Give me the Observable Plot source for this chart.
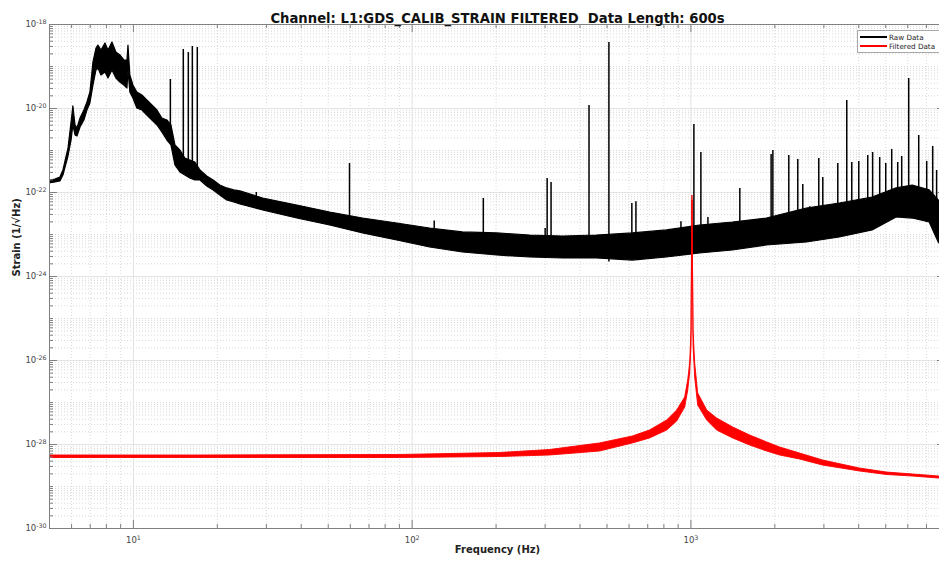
<!DOCTYPE html>
<html><head><meta charset="utf-8">
<script src="https://cdn.jsdelivr.net/npm/d3@7"></script>
<script src="https://cdn.jsdelivr.net/npm/@observablehq/plot@0.6"></script>
<style>
html,body{margin:0;padding:0;background:#fff;overflow:hidden;width:939px;height:561px;}
#wrap{position:relative;width:939px;height:561px;overflow:hidden;}
#wrap svg{max-width:none !important;}
#legend{position:absolute;left:857px;top:30px;width:95px;height:21px;border:1px solid #a8a8a8;background:#fff;font-family:"DejaVu Sans";font-size:7.2px;color:#222;}
.row{position:absolute;left:2px;height:9px;display:flex;align-items:center;white-space:nowrap;}
.sw{width:27px;height:2px;margin-right:2px;}
</style></head>
<body><div id="wrap"></div>
<script>
// ---- Raw data envelope (noise band) ----
const rawFreq = [5.0,5.25,5.47,5.61,5.85,6.0,6.09,6.2,6.3,6.46,6.67,6.84,7.01,7.19,7.37,7.49,7.68,7.94,8.14,8.41,8.69,8.98,9.28,9.52,9.6,9.75,10,10.33,10.77,11.22,11.7,12.2,12.7,13.24,13.69,14.15,14.74,15.36,16.0,16.68,17.4,18.4,19.4,20.5,21.7,23.0,24.2,29.2,38.7,50.8,66.7,88.4,116,152,202,265,348,460,619,820,1077,1414,1873,2605,3420,4487,5470,6247,7190,7745,8192];
const rawHi = [1.93e-22,2.04e-22,2.28e-22,3.34e-22,1.12e-21,4.64e-21,1.12e-20,3.94e-21,3.34e-21,5.78e-21,8.96e-21,1.39e-20,2.40e-20,1.25e-19,2.68e-19,3.16e-19,2.40e-19,3.53e-19,2.40e-19,3.73e-19,2.15e-19,1.83e-19,1.39e-19,1.39e-19,3.16e-19,6.11e-20,3.53e-20,2.40e-20,2.04e-20,1.55e-20,1.18e-20,8.96e-21,5.78e-21,5.18e-21,3.94e-21,1.32e-21,1.0e-21,6.45e-22,5.78e-22,5.18e-22,3.34e-22,2.40e-22,1.93e-22,1.47e-22,1.25e-22,1.12e-22,1.06e-22,7.2e-23,4.9e-23,3.34e-23,2.40e-23,1.83e-23,1.39e-23,1.12e-23,1.06e-23,9.46e-24,8.96e-24,9.46e-24,1.06e-23,1.25e-23,1.64e-23,1.93e-23,2.40e-23,4.16e-23,5.47e-23,7.6e-23,1.25e-22,1.47e-22,1.12e-22,6.45e-23,4.9e-23];
const rawLo = [1.64e-22,1.73e-22,1.83e-22,2.54e-22,7.2e-22,1.73e-21,3.94e-21,2.28e-21,2.15e-21,3.53e-21,5.18e-21,8.96e-21,1.32e-20,3.53e-20,8.03e-20,8.96e-20,6.11e-20,7.2e-20,5.18e-20,8.03e-20,5.18e-20,4.16e-20,3.53e-20,2.99e-20,8.03e-20,2.40e-20,1.73e-20,1.0e-20,8.96e-21,6.81e-21,5.18e-21,3.94e-21,2.68e-21,1.73e-21,1.32e-21,4.4e-22,2.99e-22,2.54e-22,2.15e-22,1.93e-22,1.93e-22,1.39e-22,1.12e-22,8.48e-23,6.45e-23,5.78e-23,5.18e-23,3.73e-23,2.40e-23,1.64e-23,1.06e-23,7.2e-24,4.9e-24,3.73e-24,3.16e-24,2.83e-24,2.68e-24,2.68e-24,2.40e-24,2.83e-24,3.53e-24,4.16e-24,5.47e-24,6.45e-24,8.48e-24,1.25e-23,2.54e-23,2.40e-23,1.93e-23,6.45e-24,4.16e-24];

// ---- Raw data spectral lines ----
const spikeFreq = [13.57,15.1,15.74,16.27,16.95,27.6,40.7,44.2,59.6,120,180,300,305,315,431,508,614,635,921,1025,1086,1151,1498,1940,1968,2245,2418,2520,2670,2876,2973,3365,3624,3777,4002,4309,4487,4757,5000,5253,5520,5705,6045,6566,7014,7370,7612];
const spikePeak = [4.9e-20,2.54e-19,2.15e-19,2.99e-19,2.83e-19,1.0e-22,4.6e-23,3.73e-23,4.9e-22,2.1e-23,7.2e-23,1.39e-23,2.15e-22,1.73e-22,1.18e-20,3.73e-19,5.47e-23,6.0e-23,2.0e-23,4.16e-21,8.96e-22,2.54e-23,1.25e-22,8.0e-22,1.0e-21,7.6e-22,6.1e-22,1.55e-22,4.6e-23,6.45e-22,2.28e-22,4.9e-22,1.55e-20,5.18e-22,5.5e-22,7.6e-22,8.96e-22,6.8e-22,4.9e-22,1.06e-21,5.18e-22,7.2e-22,5.18e-20,2.28e-21,5.5e-22,1.25e-21,3.34e-22];
const spikeBase = [3.0e-21,3.34e-22,2.99e-22,2.99e-22,2.54e-22,6e-23,3.3e-23,3e-23,1.9e-23,1.1e-23,6.5e-24,5.5e-24,5.5e-24,5.5e-24,5e-24,2.2e-24,5e-24,5e-24,6e-24,5e-24,5.5e-24,6e-24,7e-24,9e-24,9e-24,9e-24,1e-23,1e-23,1.2e-23,1.2e-23,1.3e-23,1.6e-23,1.6e-23,1.9e-23,2.1e-23,2.3e-23,2.5e-23,3e-23,3.5e-23,4.5e-23,6e-23,6e-23,6e-23,6e-23,5e-23,4e-23,3e-23];

// ---- Filtered data band ----
const redFreq = [5,17.4,90.6,207,312,472,619,713,822,893,954,978,994,1005,1013,1022,1036,1062,1144,1242,1418,1631,1877,2090,2462,2978,4040,5050,6256,7770,8192];
const redHi = [5.47e-29,5.47e-29,5.62e-29,6.28e-29,7.39e-29,1.06e-28,1.55e-28,2.15e-28,3.73e-28,6.45e-28,1.32e-27,3.34e-27,8.48e-27,5.18e-26,8.48e-23,5.18e-26,8.48e-27,1.64e-27,6.45e-28,4.16e-28,2.54e-28,1.64e-28,1.12e-28,8.48e-29,6.11e-29,4.16e-29,2.68e-29,2.15e-29,1.93e-29,1.73e-29,1.70e-29];
const redLo = [4.77e-29,4.77e-29,4.77e-29,5.04e-29,5.47e-29,6.81e-29,1.06e-28,1.39e-28,2.15e-28,3.53e-28,7.6e-28,1.93e-27,4.9e-27,2.28e-26,6.45e-23,2.28e-26,3.94e-27,8.48e-28,3.73e-28,2.15e-28,1.39e-28,9.46e-29,6.81e-29,5.47e-29,4.4e-29,3.16e-29,2.28e-29,1.88e-29,1.73e-29,1.55e-29,1.52e-29];

// ---- Axes ----
const xMajor = [10, 100, 1000];
const yMajor = [1e-30, 1e-28, 1e-26, 1e-24, 1e-22, 1e-20, 1e-18];
const xMinor = [];
for (const d of [1, 10, 100, 1000]) for (let k = 2; k <= 9; k++) { const v = k * d; if (v > 5 && v < 8192) xMinor.push(v); }
const yMinor = [];
for (let e = -30; e < -18; e++) for (let k = 1; k <= 9; k++) { if (k === 1 && e % 2 === 0) continue; yMinor.push(k * Math.pow(10, e)); }

const titleText = "Channel: L1:GDS_CALIB_STRAIN FILTERED\u00a0 Data Length: 600s";
const xLabel = "Frequency (Hz)";
const yLabel = "Strain (1/\u221AHz)";

const rawBand = rawFreq.map((f, i) => ({f, hi: rawHi[i], lo: rawLo[i]}));
const spikes = spikeFreq.map((f, i) => ({f, peak: spikePeak[i], base: spikeBase[i]}));
const red = redFreq.map((f, i) => ({f, hi: redHi[i], lo: redLo[i]}));

const W = 945, H = 561, ML = 49, MR = 0, MT = 24, MB = 33;
const PW = W - ML - MR, PH = H - MT - MB;
const axisColor = "#808080";
const fmt = d => `10^${Math.round(Math.log10(d))}`;

const svg = Plot.plot({
  width: W, height: H,
  marginLeft: ML, marginRight: MR, marginTop: MT, marginBottom: MB,
  x: {type: "log", domain: [5, 8192]},
  y: {type: "log", domain: [1e-30, 1e-18]},
  style: {fontFamily: "DejaVu Sans", background: "white", maxWidth: "none"},
  marks: [
    Plot.ruleX(xMinor, {stroke: "#cfcfcf", strokeDasharray: "1,2", strokeWidth: 0.8}),
    Plot.ruleY(yMinor, {stroke: "#cfcfcf", strokeDasharray: "1,2", strokeWidth: 0.8}),
    Plot.ruleX(xMajor, {stroke: "#e2e2e2"}),
    Plot.ruleY(yMajor, {stroke: "#e2e2e2"}),
    Plot.areaY(rawBand, {x: "f", y1: "lo", y2: "hi", fill: "#000", stroke: "#000", strokeWidth: 1.2, clip: true}),
    Plot.ruleX(spikes, {x: "f", y1: "base", y2: "peak", stroke: "#000", strokeWidth: 1.5, clip: true}),
    Plot.areaY(red, {x: "f", y1: "lo", y2: "hi", fill: "#ff0000", stroke: "#ff0000", strokeWidth: 0.9, clip: true}),
    Plot.frame({stroke: axisColor}),
    Plot.tickY(yMajor, {insetRight: PW - 8, stroke: axisColor}),
    Plot.tickY(yMajor, {insetLeft: PW - 8, stroke: axisColor}),
    Plot.tickY(yMinor, {insetRight: PW - 4, stroke: axisColor}),
    Plot.tickY(yMinor, {insetLeft: PW - 4, stroke: axisColor}),
    Plot.tickX(xMajor, {insetBottom: PH - 8, stroke: axisColor}),
    Plot.tickX(xMajor, {insetTop: PH - 8, stroke: axisColor}),
    Plot.tickX(xMinor, {insetBottom: PH - 4, stroke: axisColor}),
    Plot.tickX(xMinor, {insetTop: PH - 4, stroke: axisColor}),
    Plot.axisX(xMajor, {anchor: "bottom", tickSize: 0, tickPadding: 8, tickFormat: fmt, label: null, fontSize: 8.5, fill: "#444"}),
    Plot.axisY(yMajor, {anchor: "left", tickSize: 0, tickPadding: 3, tickFormat: fmt, label: null, fontSize: 8.5, fill: "#444"}),
    Plot.text([titleText], {frameAnchor: "top", dy: -11, fontWeight: "bold", fontSize: 13.2, fill: "#111"}),
    Plot.text([xLabel], {frameAnchor: "bottom", dy: 24, fontWeight: "bold", fontSize: 10, fill: "#222"}),
    Plot.text([yLabel], {frameAnchor: "left", dx: -33, rotate: -90, fontWeight: "bold", fontSize: 10, fill: "#222"})
  ]
});
svg.style.maxWidth = "none";
svg.style.width = W + "px";
svg.style.height = H + "px";

svg.querySelectorAll("text").forEach(t => {
  const m = /^10\^(-?\d+)$/.exec(t.textContent);
  if (m) {
    t.textContent = "10";
    const ts = document.createElementNS("http://www.w3.org/2000/svg", "tspan");
    ts.setAttribute("dy", "-0.45em");
    ts.setAttribute("font-size", "6.3");
    ts.textContent = m[1];
    t.appendChild(ts);
  }
});

const wrap = document.getElementById("wrap");
wrap.appendChild(svg);
const legend = document.createElement("div");
legend.id = "legend";
legend.innerHTML = `<div class="row" style="top:1.5px"><div class="sw" style="background:#000"></div>Raw Data</div>
<div class="row" style="top:10.5px"><div class="sw" style="background:#f00"></div>Filtered Data</div>`;
wrap.appendChild(legend);
</script>
</body></html>
